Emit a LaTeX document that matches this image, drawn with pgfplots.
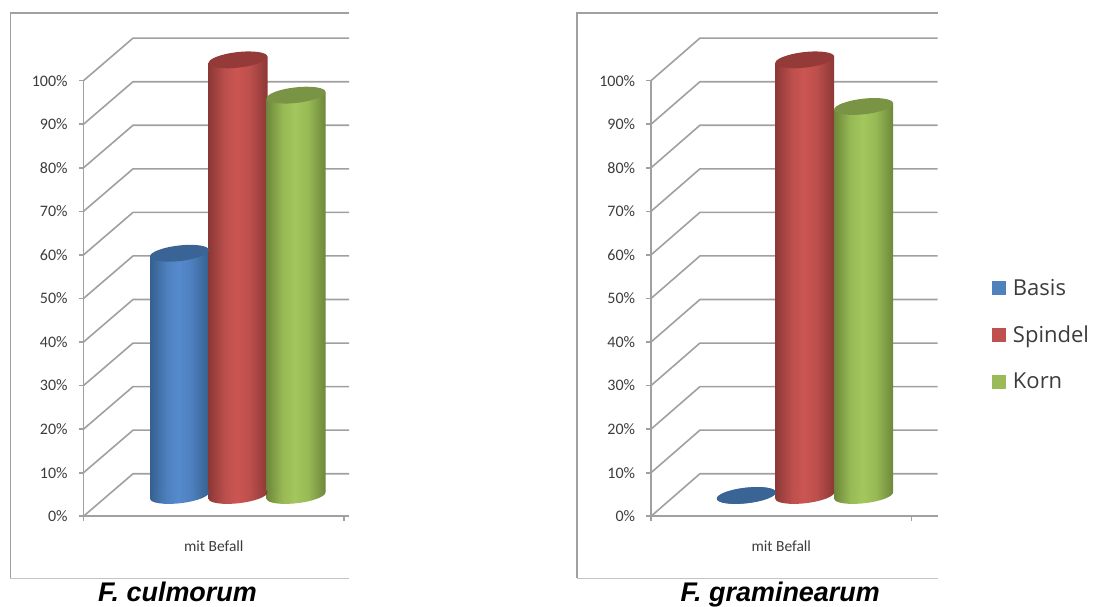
\documentclass[border=0pt]{standalone}
\usepackage{fontspec}
\usepackage{pgfplots}
\usepackage{pgfplotstable}
\pgfplotsset{compat=1.18}
\setmainfont{Carlito}
\newfontfamily\legendfont{Open Sans}
\newfontfamily\titlefont{Liberation Sans}

\definecolor{axisgray}{HTML}{A0A0A0}
\definecolor{framelight}{HTML}{C4C4C4}
\definecolor{labelgray}{HTML}{3C3C3C}
\definecolor{barblue}{HTML}{4F81BD}
\definecolor{barred}{HTML}{C0504D}
\definecolor{bargreen}{HTML}{9BBB59}
\definecolor{capblue}{HTML}{3A6496}
\definecolor{capred}{HTML}{943A38}
\definecolor{capgreen}{HTML}{7A9445}
\definecolor{rimblue}{HTML}{35608F}
\definecolor{midblue}{HTML}{4E80BF}
\definecolor{hiblue}{HTML}{558ACE}
\definecolor{rimred}{HTML}{8C3836}
\definecolor{midred}{HTML}{BC4F4C}
\definecolor{hired}{HTML}{CC5552}
\definecolor{rimgreen}{HTML}{6D873A}
\definecolor{midgreen}{HTML}{98BA55}
\definecolor{higreen}{HTML}{A4C65E}

% Cylinder surfaces: dark rim, bright band at the centre
\newcommand\declarecylshading[4]{%
  \pgfdeclarehorizontalshading{#1}{100bp}{
    color(0bp)=(#2); color(25bp)=(#2); color(39bp)=(#3);
    color(49bp)=(#4); color(60bp)=(#3); color(75bp)=(#2); color(100bp)=(#2)}}
\declarecylshading{cylblue}{rimblue}{midblue}{hiblue}
\declarecylshading{cylred}{rimred}{midred}{hired}
\declarecylshading{cylgreen}{rimgreen}{midgreen}{higreen}

% Tilted ellipse, flat-coloured lid
\pgfdeclareplotmark{cyllid}{%
  \pgfpathellipse{\pgfpointorigin}{\pgfqpoint{22.1pt}{2.5pt}}{\pgfqpoint{-0.6pt}{5.8pt}}%
  \pgfusepathqfill}
% Tilted ellipse carrying the cylinder shading, for the rounded foot
\newcommand\declarefoot[1]{%
  \pgfdeclareplotmark{#1foot}{%
    \pgfpathellipse{\pgfpointorigin}{\pgfqpoint{22.1pt}{2.5pt}}{\pgfqpoint{-0.6pt}{5.8pt}}%
    \pgfshadepath{#1}{0}\pgfusepath{discard}}}
\declarefoot{cylblue}\declarefoot{cylred}\declarefoot{cylgreen}

% One cylinder: centre x, value in percent, shading name, lid colour
\newcommand\cylinder[4]{%
  \pgfmathsetmacro\xl{#1-29.5}%
  \pgfmathsetmacro\xr{#1+29.5}%
  \pgfmathsetmacro\tl{#2-0.76}%
  \pgfmathsetmacro\tr{#2+0.76}%
  \addplot[only marks, mark=#3foot, forget plot, yshift=15.6pt] coordinates {(#1,0)};
  \addplot[draw=none, shade, shading=#3, forget plot, yshift=15.6pt]
    coordinates {(\xl,-0.76)(\xl,\tl)(\xr,\tr)(\xr,0.76)} -- cycle;
  \addplot[only marks, mark=cyllid, color=#4, forget plot, yshift=15.6pt] coordinates {(#1,#2)};
}

% Back wall outline, one copy per percent level
\pgfplotstableread{
x d
83.5 0
133 9.76
349 9.76
}\wallleft
\pgfplotstableread{
x d
651 0
700 9.76
938 9.76
}\wallright

\pgfplotsset{
  cylaxis/.style={
    scale only axis, width=195.4pt, height=326.7pt,
    ymin=0, ymax=100, clip=false,
    axis x line*=bottom, axis y line*=left,
    axis line style={axisgray, line width=1.2pt, -},
    tick style={axisgray, line width=1.2pt},
    tick align=outside, major tick length=3.4pt,
    ytick={0,10,...,100},
    yticklabel={\pgfmathprintnumber[assume math mode=true]{\tick}\%},
    yticklabel style={font=\fontsize{12}{14}\selectfont, text=labelgray, xshift=-5pt},
    xticklabels={},
    xlabel={mit Befall},
    xlabel style={font=\fontsize{11.6}{13}\selectfont, text=labelgray, yshift=-4.4pt},
  },
  wallline/.style={axisgray, line width=1.2pt, no marks, forget plot},
  frameline/.style={axisgray, line width=1.1pt, no marks, forget plot},
  framefoot/.style={framelight, line width=0.9pt, no marks, forget plot},
}
\tikzset{
  plottitle/.style={font=\titlefont\bfseries\itshape\fontsize{20.2}{22}\selectfont,
    text=black, anchor=base},
}

\begin{document}
\begin{tikzpicture}
\path[use as bounding box] (0,0) rectangle (820.5pt,454.5pt);

\begin{axis}[cylaxis, at={(62.625pt,67.3pt)}, xmin=83.5, xmax=344, xtick={83.5,344}]
  \pgfplotsinvokeforeach{0,10,...,100}{
    \addplot[wallline] table[x=x, y expr=\thisrow{d}+#1] {\wallleft};
  }
  \addplot[wallline] coordinates {(83.5,0)(349,0)};
  \addplot[framefoot] coordinates {(10.5,-14.2)(349,-14.2)};
  \addplot[frameline] coordinates {(349,115.5)(10.5,115.5)(10.5,-14.2)};
  \cylinder{179.5}{55.6}{cylblue}{capblue}
  \cylinder{238}{100}{cylred}{capred}
  \cylinder{296}{91.9}{cylgreen}{capgreen}
  \node[plottitle] at (axis cs:177.5,-19.6) {F. culmorum};
\end{axis}

\begin{axis}[cylaxis, at={(488.25pt,67.3pt)}, xmin=651, xmax=912, xtick={651,912},
  legend style={draw=none, fill=none, at={(axis cs:992.5,41.6)}, anchor=west,
    font=\legendfont\fontsize{16.5}{20}\selectfont, text=labelgray,
    row sep=17.4pt, inner sep=0pt, outer sep=0pt, cells={anchor=west}},
  legend image code/.code={\fill[draw=none,#1] (0pt,-5.2pt) rectangle (10.5pt,5.2pt);
    \path (13.6pt,0pt);},
  legend cell align=left]
  \pgfplotsinvokeforeach{0,10,...,100}{
    \addplot[wallline] table[x=x, y expr=\thisrow{d}+#1] {\wallright};
  }
  \addplot[wallline] coordinates {(651,0)(938,0)};
  \addplot[framefoot] coordinates {(577,-14.2)(938,-14.2)};
  \addplot[frameline] coordinates {(938,115.5)(577,115.5)(577,-14.2)};
  \cylinder{746.5}{0}{cylblue}{capblue}
  \cylinder{805}{100}{cylred}{capred}
  \cylinder{864}{89.3}{cylgreen}{capgreen}
  \addlegendimage{fill=barblue}\addlegendentry{Basis}
  \addlegendimage{fill=barred}\addlegendentry{Spindel}
  \addlegendimage{fill=bargreen}\addlegendentry{Korn}
  \node[plottitle] at (axis cs:780.5,-19.6) {F. graminearum};
\end{axis}
\end{tikzpicture}
\end{document}
